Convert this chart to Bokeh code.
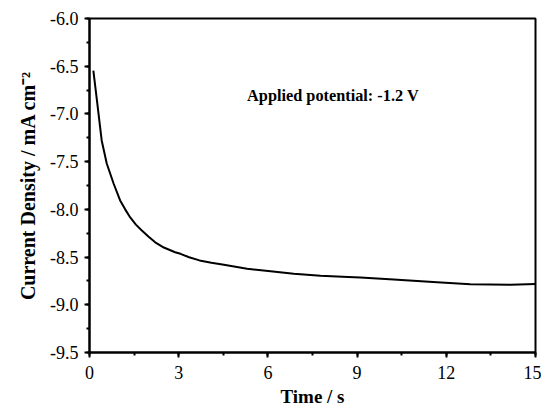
from bokeh.plotting import figure
from bokeh.models import Range1d, SingleIntervalTicker, PrintfTickFormatter, ColumnDataSource
from bokeh.core.properties import value
from bokeh.embed import file_html
from bokeh.resources import INLINE

# Data
time_s = [0.13, 0.25, 0.41, 0.58, 0.81, 1.03, 1.20, 1.37, 1.56, 1.76, 1.98, 2.21, 2.50,
          2.88, 3.06, 3.35, 3.70, 4.10, 4.52, 5.30, 6.09, 6.87, 7.77, 8.70, 9.11, 10.23,
          11.69, 12.81, 14.16, 15.0]
current = [-6.545, -6.859, -7.278, -7.519, -7.729, -7.907, -8.000, -8.085, -8.160, -8.222,
           -8.285, -8.345, -8.400, -8.449, -8.466, -8.502, -8.535, -8.560, -8.581, -8.623,
           -8.648, -8.676, -8.697, -8.708, -8.715, -8.735, -8.763, -8.784, -8.791, -8.782]
annotation_text = ["Applied potential:  -1.2 V"]
annotation_x = [5.3]
annotation_y = [-6.811]

serif = "Liberation Serif"

p = figure(width=541, height=409, output_backend="svg", toolbar_location=None,
           x_range=Range1d(0, 15), y_range=Range1d(-9.5, -6.0),
           min_border_left=89, min_border_right=6, min_border_top=18, min_border_bottom=57)

p.xgrid.visible = False
p.ygrid.visible = False
p.outline_line_color = "black"
p.outline_line_width = 2
p.outline_line_alpha = 1.0
p.background_fill_color = "white"
p.border_fill_color = "white"

p.line(time_s, current, line_color="black", line_width=2)

src = ColumnDataSource(dict(x=annotation_x, y=annotation_y, t=annotation_text))
p.text(x="x", y="y", text="t", source=src, text_font=value(serif), text_font_style="bold",
       text_font_size="16.3px", text_baseline="alphabetic", text_align="left", text_color="black")

p.xaxis.ticker = SingleIntervalTicker(interval=3, num_minor_ticks=2)
p.yaxis.ticker = SingleIntervalTicker(interval=0.5, num_minor_ticks=2)
p.xaxis.formatter = PrintfTickFormatter(format="%d")
p.yaxis.formatter = PrintfTickFormatter(format="%.1f")

for ax in (p.xaxis, p.yaxis):
    ax.axis_line_width = 2
    ax.axis_line_color = "black"
    ax.major_tick_line_color = "black"
    ax.minor_tick_line_color = "black"
    ax.major_tick_line_width = 2
    ax.minor_tick_line_width = 2
    ax.major_tick_out = 5
    ax.major_tick_in = 0
    ax.minor_tick_out = 3
    ax.minor_tick_in = 0
    ax.major_label_text_font = serif
    ax.major_label_text_font_size = "18px"
    ax.major_label_text_color = "black"
    ax.axis_label_text_font = serif
    ax.axis_label_text_font_style = "bold"
    ax.axis_label_text_color = "black"

p.xaxis.axis_label_text_font_size = "19px"
p.yaxis.axis_label_text_font_size = "20px"
p.xaxis.axis_label = "Time / s"
p.yaxis.axis_label = "Current Density / mA cm\u207b\u00b2"
p.xaxis.major_label_standoff = 8
p.yaxis.major_label_standoff = 6
p.xaxis.axis_label_standoff = 4
p.yaxis.axis_label_standoff = 8

open("out.html", "w").write(file_html(p, INLINE))
